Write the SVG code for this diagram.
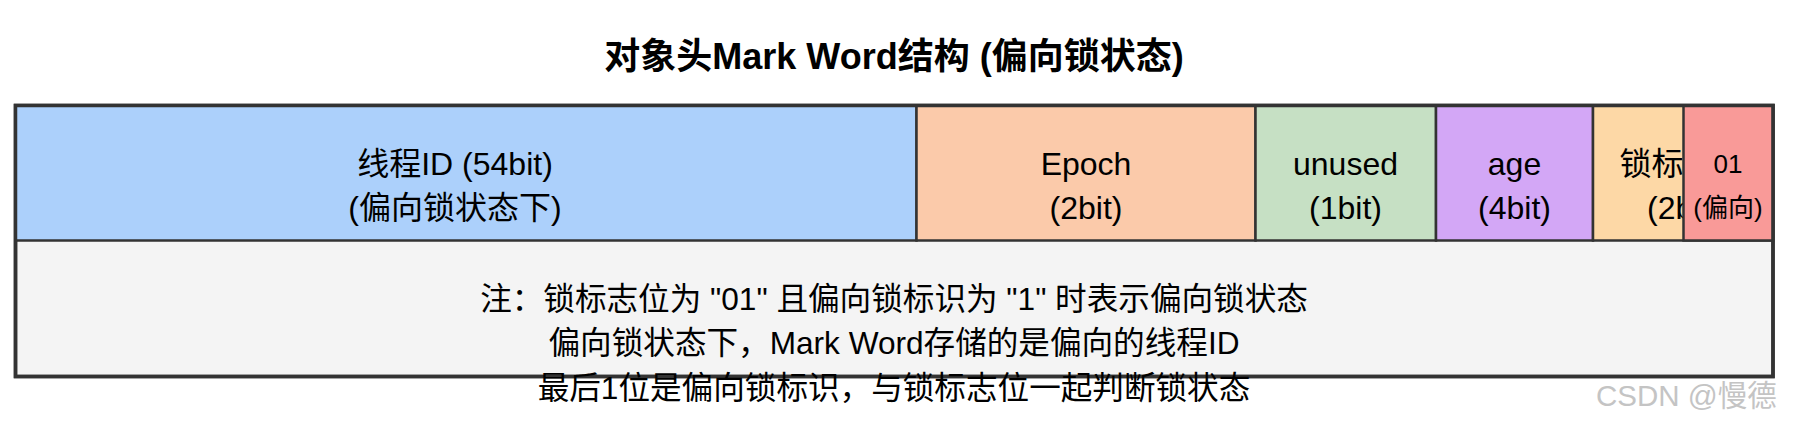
<svg xmlns="http://www.w3.org/2000/svg" width="1796" height="430" viewBox="0 0 1796 430">
  <style>
    .t { font-family: "Liberation Sans", "Noto Sans CJK SC", sans-serif; fill: #000; text-anchor: middle; }
    .title { font-size: 36px; font-weight: bold; }
    .cell { font-size: 32px; }
    .note { font-size: 31.6px; }
    .small { font-size: 26px; }
    .box { stroke: #333; stroke-width: 2.5; }
    .wm { font-family: "Liberation Sans", "Noto Sans CJK SC", sans-serif; font-size: 29.5px; fill: #c4c4c4; }
  </style>
  <defs>
    <clipPath id="lockClip">
      <rect x="1593" y="105" width="90.5" height="136"/>
    </clipPath>
  </defs>
  <rect width="1796" height="430" fill="#ffffff"/>
  <g id="title">
    <text class="t title" x="894" y="69">对象头Mark Word结构 (偏向锁状态)</text>
  </g>
  <g id="container">
    <rect x="15.5" y="105.5" width="1757.5" height="271" fill="#f4f4f4" stroke="#333" stroke-width="3.5"/>
  </g>
  <g id="thread-id">
    <rect class="box" x="15.5" y="105.5" width="901" height="135" fill="#acd0fb"/>
    <text class="t cell" x="455" y="175">线程ID (54bit)</text>
    <text class="t cell" x="455" y="219">(偏向锁状态下)</text>
  </g>
  <g id="epoch">
    <rect class="box" x="916.5" y="105.5" width="339" height="135" fill="#fbcaaa"/>
    <text class="t cell" x="1086" y="175">Epoch</text>
    <text class="t cell" x="1086" y="219">(2bit)</text>
  </g>
  <g id="unused">
    <rect class="box" x="1255.5" y="105.5" width="180.5" height="135" fill="#c6e0c4"/>
    <text class="t cell" x="1345.5" y="175">unused</text>
    <text class="t cell" x="1345.5" y="219">(1bit)</text>
  </g>
  <g id="age">
    <rect class="box" x="1436" y="105.5" width="157" height="135" fill="#d3a7f6"/>
    <text class="t cell" x="1514.5" y="175">age</text>
    <text class="t cell" x="1514.5" y="219">(4bit)</text>
  </g>
  <g id="lock-flag">
    <rect class="box" x="1593" y="105.5" width="180" height="135" fill="#fdd8a6"/>
    <g clip-path="url(#lockClip)">
      <text class="t cell" x="1683.5" y="175">锁标志位</text>
      <text class="t cell" x="1683.5" y="219">(2bit)</text>
    </g>
  </g>
  <g id="biased-bit">
    <rect class="box" x="1683.5" y="105.5" width="89.5" height="135" fill="#f99a98"/>
    <text class="t small" x="1728" y="173">01</text>
    <text class="t small" x="1728" y="217">(偏向)</text>
  </g>
  <g id="frame">
    <rect x="15.5" y="105.5" width="1757.5" height="271" fill="none" stroke="#333" stroke-width="3.5"/>
  </g>
  <g id="note">
    <text class="t note" x="894" y="310">注：锁标志位为 "01" 且偏向锁标识为 "1" 时表示偏向锁状态</text>
    <text class="t note" x="894" y="354">偏向锁状态下，Mark Word存储的是偏向的线程ID</text>
    <text class="t note" x="894" y="399">最后1位是偏向锁标识，与锁标志位一起判断锁状态</text>
  </g>
  <g id="connectors"/>
  <g id="watermark">
    <text class="wm" x="1596" y="406">CSDN @慢德</text>
  </g>
</svg>
